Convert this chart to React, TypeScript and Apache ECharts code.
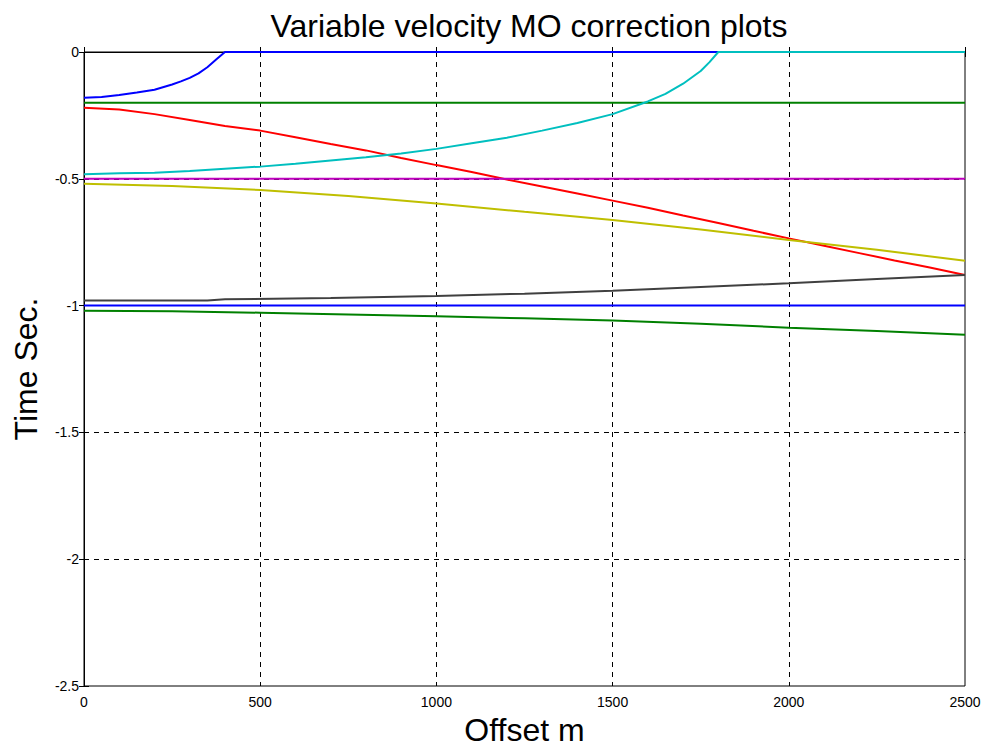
import React, { useEffect, useRef } from "react";
import * as echarts from "echarts";

const xTicks = [0, 500, 1000, 1500, 2000, 2500];
const yTicks = [-2.5, -2, -1.5, -1, -0.5, 0];

// Series 1: blue curve (over-corrected reflector near -0.2 s)
const blueCurveX = [0, 50, 100, 150, 200, 250, 275, 300, 325, 350, 375, 400, 2500];
const blueCurveY = [-0.18, -0.177, -0.17, -0.16, -0.149, -0.128, -0.116, -0.102, -0.084, -0.06, -0.03, 0, 0];

// Series 2: green flat reference -0.2
const greenFlatX = [0, 2500];
const greenFlatY = [-0.2, -0.2];

// Series 3: red curve
const redX = [0, 100, 200, 300, 400, 500, 600, 700, 800, 900, 1000, 1100, 1200, 1300, 1400, 1500, 1600, 1700, 1800, 1900, 2000, 2100, 2200, 2300, 2400, 2500];
const redY = [-0.22, -0.227, -0.245, -0.268, -0.292, -0.31, -0.336, -0.363, -0.388, -0.418, -0.446, -0.473, -0.503, -0.53, -0.558, -0.586, -0.614, -0.645, -0.674, -0.705, -0.735, -0.764, -0.793, -0.822, -0.85, -0.879];

// Series 4: cyan curve
const cyanX = [0, 100, 200, 300, 400, 500, 600, 700, 800, 900, 1000, 1100, 1200, 1300, 1400, 1500, 1600, 1650, 1700, 1750, 1775, 1800, 2500];
const cyanY = [-0.482, -0.478, -0.476, -0.469, -0.46, -0.452, -0.441, -0.428, -0.415, -0.4, -0.382, -0.36, -0.338, -0.31, -0.28, -0.245, -0.195, -0.165, -0.125, -0.075, -0.04, 0, 0];

// Series 5: magenta flat reference -0.5
const magentaX = [0, 2500];
const magentaY = [-0.5, -0.5];

// Series 6: yellow curve
const yellowX = [0, 250, 500, 750, 1000, 1250, 1500, 1750, 2000, 2250, 2500];
const yellowY = [-0.52, -0.528, -0.544, -0.568, -0.597, -0.63, -0.662, -0.7, -0.741, -0.78, -0.823];

// Series 7: black curve
const blackX = [0, 350, 400, 700, 1000, 1250, 1500, 1750, 2000, 2250, 2500];
const blackY = [-0.98, -0.98, -0.975, -0.97, -0.962, -0.953, -0.941, -0.927, -0.912, -0.895, -0.879];

// Series 8: blue flat reference -1.0
const blueFlatX = [0, 2500];
const blueFlatY = [-1, -1];

// Series 9: green curve
const greenCurveX = [0, 250, 500, 750, 1000, 1250, 1500, 1750, 2000, 2250, 2500];
const greenCurveY = [-1.02, -1.022, -1.028, -1.035, -1.042, -1.05, -1.059, -1.072, -1.087, -1.1, -1.115];

const pairs = (xs: number[], ys: number[]) => xs.map((x, i) => [x, ys[i]]);

const seriesDefs = [
  { x: blueCurveX, y: blueCurveY, color: "#0000ff" },
  { x: greenFlatX, y: greenFlatY, color: "#008000" },
  { x: redX, y: redY, color: "#ff0000" },
  { x: cyanX, y: cyanY, color: "#00bfbf" },
  { x: magentaX, y: magentaY, color: "#bf00bf" },
  { x: yellowX, y: yellowY, color: "#bfbf00" },
  { x: blackX, y: blackY, color: "#404040" },
  { x: blueFlatX, y: blueFlatY, color: "#0000ff" },
  { x: greenCurveX, y: greenCurveY, color: "#008000" },
];

const FONT = "'Liberation Sans', Arial, Helvetica, sans-serif";

export default function App() {
  const ref = useRef<HTMLDivElement>(null);
  useEffect(() => {
    if (!ref.current) return;
    const chart = echarts.init(ref.current, undefined, { renderer: "svg" });
    const gridLine = {
      show: true,
      showMinLine: false,
      showMaxLine: false,
      lineStyle: { color: "#000", type: [5, 5] as any, width: 1 },
    };
    chart.setOption({
      animation: false,
      backgroundColor: "#fff",
      title: {
        text: "Variable velocity MO correction plots",
        left: 524,
        top: 5,
        textAlign: "center",
        textStyle: { fontFamily: FONT, fontSize: 32, fontWeight: "normal", color: "#000" },
      },
      grid: {
        left: 84,
        right: 20,
        top: 52,
        bottom: 61,
        outerBoundsMode: "none",
        containLabel: false,
        show: true,
        borderColor: "#000",
        borderWidth: 1,
        backgroundColor: "#fff",
      },
      xAxis: [
        {
          type: "value",
          min: xTicks[0],
          max: xTicks[xTicks.length - 1],
          interval: 500,
          position: "bottom",
          name: "Offset m",
          nameLocation: "middle",
          nameGap: 23,
          nameTextStyle: { fontFamily: FONT, fontSize: 32, color: "#000", verticalAlign: "top" },
          axisLine: { show: true, lineStyle: { color: "#000" } },
          axisTick: { show: true, inside: true, length: 5, lineStyle: { color: "#000" } },
          axisLabel: { fontFamily: FONT, fontSize: 14, color: "#000", margin: 9, formatter: (v: number) => String(v) },
          splitLine: gridLine,
        },
        {
          type: "value",
          min: xTicks[0],
          max: xTicks[xTicks.length - 1],
          interval: 500,
          position: "top",
          axisLine: { show: true, lineStyle: { color: "#000" } },
          axisTick: { show: true, inside: true, length: 5, lineStyle: { color: "#000" } },
          axisLabel: { show: false },
          splitLine: { show: false },
        },
      ],
      yAxis: [
        {
          type: "value",
          min: yTicks[0],
          max: yTicks[yTicks.length - 1],
          interval: 0.5,
          position: "left",
          name: "Time Sec.",
          nameLocation: "middle",
          nameGap: 42,
          nameTextStyle: { fontFamily: FONT, fontSize: 32, color: "#000" },
          axisLine: { show: true, lineStyle: { color: "#000" } },
          axisTick: { show: true, inside: true, length: 5, lineStyle: { color: "#000" } },
          axisLabel: { fontFamily: FONT, fontSize: 14, color: "#000", margin: 5, formatter: (v: number) => String(v) },
          splitLine: gridLine,
        },
        {
          type: "value",
          min: yTicks[0],
          max: yTicks[yTicks.length - 1],
          interval: 0.5,
          position: "right",
          axisLine: { show: true, lineStyle: { color: "#000" } },
          axisTick: { show: true, inside: true, length: 5, lineStyle: { color: "#000" } },
          axisLabel: { show: false },
          splitLine: { show: false },
        },
      ],
      series: seriesDefs.map((s) => ({
        type: "line",
        data: pairs(s.x, s.y),
        xAxisIndex: 0,
        yAxisIndex: 0,
        showSymbol: false,
        symbol: "none",
        lineStyle: { color: s.color, width: 2 },
        itemStyle: { color: s.color },
        clip: true,
      })),
    });
    return () => chart.dispose();
  }, []);
  return (
    <div
      ref={ref}
      style={{ position: "absolute", left: 0, top: 0, width: 985, height: 747, background: "#fff" }}
    />
  );
}
